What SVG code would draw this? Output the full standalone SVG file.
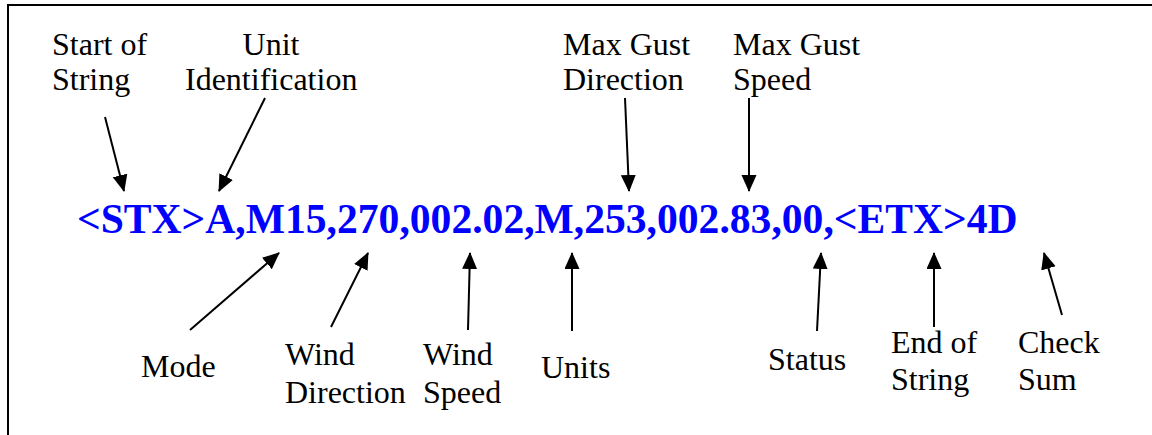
<svg xmlns="http://www.w3.org/2000/svg" width="1152" height="435" viewBox="0 0 1152 435">
<style>
.lbl{font-family:"Liberation Serif","Times New Roman",serif;font-size:32px;fill:#000}
.main{font-family:"Liberation Serif","Times New Roman",serif;font-size:41.6px;font-weight:bold;fill:#0000FF}
.conn line{stroke:#000;stroke-width:2;marker-end:url(#ah)}
</style>
<defs>
<marker id="ah" markerUnits="userSpaceOnUse" markerWidth="18" markerHeight="16" refX="16" refY="7.5" orient="auto">
<path d="M0,0 L17,7.5 L0,15 Z" fill="#000"/>
</marker>
</defs>
<rect x="8" y="5" width="1200" height="500" fill="#fff" stroke="#000" stroke-width="2"/>
<g id="string"><text class="main" x="77" y="233">&lt;STX&gt;A,M15,270,002.02,M,253,002.83,00,&lt;ETX&gt;4D</text></g>
<g id="start"><text class="lbl" x="52" y="55">Start of</text><text class="lbl" x="52" y="90">String</text></g>
<g id="unitid"><text class="lbl" x="271" y="55" text-anchor="middle">Unit</text><text class="lbl" x="185" y="90">Identification</text></g>
<g id="mgdir"><text class="lbl" x="563" y="55">Max Gust</text><text class="lbl" x="563" y="90">Direction</text></g>
<g id="mgspd"><text class="lbl" x="733" y="55">Max Gust</text><text class="lbl" x="733" y="90">Speed</text></g>
<g id="mode"><text class="lbl" x="141" y="377">Mode</text></g>
<g id="wdir"><text class="lbl" x="285" y="365">Wind</text><text class="lbl" x="285" y="403">Direction</text></g>
<g id="wspd"><text class="lbl" x="423" y="365">Wind</text><text class="lbl" x="423" y="403">Speed</text></g>
<g id="units"><text class="lbl" x="541" y="378">Units</text></g>
<g id="status"><text class="lbl" x="768" y="370">Status</text></g>
<g id="end"><text class="lbl" x="891" y="353">End of</text><text class="lbl" x="891" y="390">String</text></g>
<g id="check"><text class="lbl" x="1018" y="353">Check</text><text class="lbl" x="1018" y="390">Sum</text></g>
<g class="conn">
<line x1="105" y1="117" x2="124" y2="191"/>
<line x1="265" y1="98" x2="219" y2="191"/>
<line x1="625" y1="98" x2="629" y2="191"/>
<line x1="749" y1="98" x2="749" y2="191"/>
<line x1="190" y1="330" x2="279" y2="253"/>
<line x1="331" y1="327" x2="368" y2="253"/>
<line x1="468" y1="330" x2="470" y2="253"/>
<line x1="572" y1="331" x2="572" y2="253"/>
<line x1="817" y1="331" x2="821" y2="253"/>
<line x1="934" y1="327" x2="934" y2="253"/>
<line x1="1062" y1="315" x2="1044" y2="253"/>
</g>
</svg>
